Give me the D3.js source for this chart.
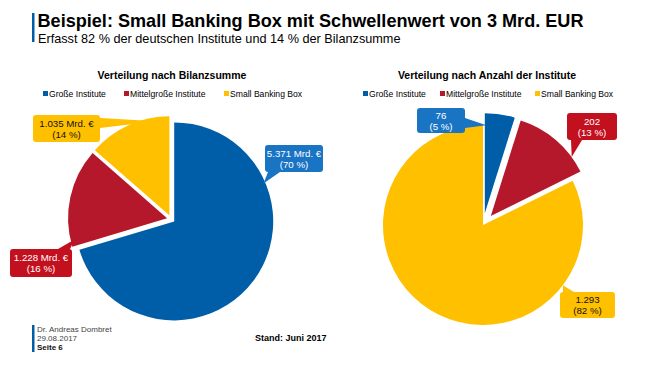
<!DOCTYPE html>
<html>
<head>
<meta charset="utf-8">
<script src="https://cdn.jsdelivr.net/npm/d3@7"></script>
<style>
  body { margin: 0; background: #fff; }
  text { font-family: "Liberation Sans", Arial, sans-serif; }
</style>
</head>
<body>
<div id="chart"></div>
<script>
const width = 650, height = 366;

// data
const categories = ["Große Institute", "Mittelgroße Institute", "Small Banking Box"];
const bilanzValues = [5371, 1228, 1035];
const bilanzShares = [70, 16, 14];
const anzahlValues = [76, 202, 1293];
const anzahlShares = [5, 13, 82];

const sliceColors = ["#005ea8", "#b5172b", "#ffc000"];
const boxColors = ["#1a74c4", "#c3101f", "#ffc000"];
const boxText = ["#fff", "#fff", "#111"];

const svg = d3.select("#chart")
  .append("svg")
    .attr("width", width)
    .attr("height", height);

// header
svg.append("rect").attr("x", 32).attr("y", 13).attr("width", 2.5).attr("height", 29).attr("fill", "#005ea8");
svg.append("text")
  .attr("x", 37.5).attr("y", 27)
  .style("font-size", "18.1px").style("font-weight", 700)
  .text("Beispiel: Small Banking Box mit Schwellenwert von 3 Mrd. EUR");
svg.append("text")
  .attr("x", 38).attr("y", 43)
  .style("font-size", "12.7px")
  .text("Erfasst 82 % der deutschen Institute und 14 % der Bilanzsumme");

const fmt = d3.format(",");
const deFmt = v => fmt(v).replace(/,/g, ".");

const panels = [
  {
    title: "Verteilung nach Bilanzsumme", titleX: 172,
    values: bilanzValues, shares: bilanzShares, unit: " Mrd. €",
    cx: 171, cy: 219, r: 99, explode: [4, 4, 4],
    legendX: [43, 124, 224],
    labels: [
      { tipA: 67, tipR: 97, box: [265, 145, 58, 27], base: [[268, 172], [280, 172]] },
      { tipA: 257, tipR: 95, box: [10, 249, 62, 28], base: [[58, 249], [70, 249]] },
      { tipA: 352, tipR: 95, box: [33, 115, 67, 27], base: [[100, 118], [100, 128]] }
    ]
  },
  {
    title: "Verteilung nach Anzahl der Institute", titleX: 487,
    values: anzahlValues, shares: anzahlShares, unit: "",
    cx: 483, cy: 225, r: 100, explode: [12, 12, 0],
    legendX: [363, 440, 535],
    labels: [
      { tipA: 1, tipR: 88, box: [417, 108, 48, 25], base: [[465, 118], [465, 128]] },
      { tipA: 54, tipR: 100, box: [567, 113, 50, 27], base: [[571, 140], [582, 140]] },
      { tipA: 127, tipR: 100, box: [560, 292, 55, 26], base: [[563, 292], [574, 292]] }
    ]
  }
];

const pieGen = d3.pie().sort(null).value(d => d);
const rad = a => a * Math.PI / 180;

panels.forEach(p => {
  svg.append("text")
    .attr("x", p.titleX).attr("y", 79)
    .attr("text-anchor", "middle")
    .style("font-size", "10.5px").style("font-weight", 700)
    .text(p.title);

  // legend
  categories.forEach((c, i) => {
    svg.append("rect")
      .attr("x", p.legendX[i]).attr("y", 91)
      .attr("width", 5).attr("height", 5)
      .attr("fill", sliceColors[i]);
    svg.append("text")
      .attr("x", p.legendX[i] + 6).attr("y", 96.5)
      .style("font-size", "8.6px")
      .text(c);
  });

  const arcs = pieGen(p.values);
  const arcGen = d3.arc().innerRadius(0).outerRadius(p.r);
  const offsets = arcs.map((a, i) => {
    const mid = (a.startAngle + a.endAngle) / 2;
    return [p.cx + Math.sin(mid) * p.explode[i], p.cy - Math.cos(mid) * p.explode[i]];
  });

  svg.selectAll(null)
    .data(arcs)
    .join("path")
      .attr("transform", (d, i) => `translate(${offsets[i]})`)
      .attr("d", arcGen)
      .attr("fill", (d, i) => sliceColors[i]);

  // callouts
  arcs.forEach((a, i) => {
    const L = p.labels[i];
    const tip = [offsets[i][0] + Math.sin(rad(L.tipA)) * L.tipR,
                 offsets[i][1] - Math.cos(rad(L.tipA)) * L.tipR];
    const [bx, by, bw, bh] = L.box;
    const g = svg.append("g");
    g.append("rect")
      .attr("x", bx).attr("y", by).attr("width", bw).attr("height", bh)
      .attr("rx", 3)
      .attr("fill", boxColors[i]);
    g.append("path")
      .attr("d", d3.line()([L.base[0], tip, L.base[1]]) + "Z")
      .attr("fill", boxColors[i]);
    const t = g.append("text")
      .attr("text-anchor", "middle")
      .attr("fill", boxText[i])
      .style("font-size", "9.7px");
    t.append("tspan").attr("x", bx + bw / 2).attr("y", by + bh / 2 - 2)
      .text(deFmt(p.values[i]) + p.unit);
    t.append("tspan").attr("x", bx + bw / 2).attr("y", by + bh / 2 + 9)
      .text(`(${p.shares[i]} %)`);
  });
});

// footer
svg.append("rect").attr("x", 32).attr("y", 325).attr("width", 2.5).attr("height", 27).attr("fill", "#005ea8");
const foot = svg.append("text").style("font-size", "8px").attr("fill", "#444");
foot.append("tspan").attr("x", 37).attr("y", 332).text("Dr. Andreas Dombret");
foot.append("tspan").attr("x", 37).attr("y", 341).text("29.08.2017");
foot.append("tspan").attr("x", 37).attr("y", 350).attr("fill", "#111").style("font-weight", 700).text("Seite 6");
svg.append("text")
  .attr("x", 255).attr("y", 341)
  .style("font-size", "9px").style("font-weight", 700)
  .text("Stand: Juni 2017");
</script>
</body>
</html>
